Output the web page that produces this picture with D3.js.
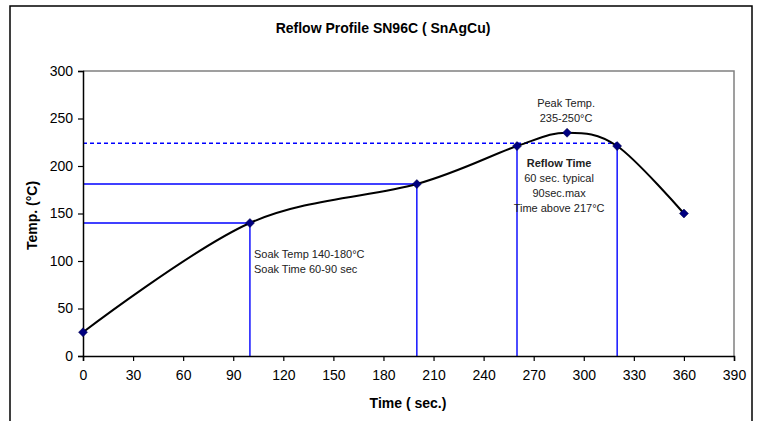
<!DOCTYPE html>
<html>
<head>
<meta charset="utf-8">
<script src="https://cdn.jsdelivr.net/npm/d3@7"></script>
<style>
  body { margin: 0; background: #fff; }
  svg { display: block; font-family: 'Liberation Sans', Arial, sans-serif; }
</style>
</head>
<body>
<div id="chart"><svg width="759" height="421"></svg></div>
<script>
// profile points (sec, °C)
const TIMES = [0, 100, 200, 260, 290, 320, 360];
const TEMPS = [25, 140, 181, 221, 235, 221, 150];

const X_TICKS = [0, 30, 60, 90, 120, 150, 180, 210, 240, 270, 300, 330, 360, 390];
const Y_TICKS = [0, 50, 100, 150, 200, 250, 300];

// guide lines
const H_LEVELS = [140, 181, 224];
const H_ENDS = [100, 200, 320];
const H_DASHED = [false, false, true];
const V_TIMES = [100, 200, 260, 320];
const V_TOPS = [140, 181, 224, 224];

const SOAK_TEXT = ['Soak Temp 140-180°C', 'Soak Time 60-90 sec'];
const PEAK_TEXT = ['Peak Temp.', '235-250°C'];
const REFLOW_TEXT = ['Reflow Time', '60 sec. typical', '90sec.max', 'Time above 217°C'];

const SVG = d3.select('#chart svg');
const LEFT = 83, TOP = 71, RIGHT = 734, BOTTOM = 356;

// chart frame
SVG.append('rect')
  .attr('x', 10).attr('y', 6)
  .attr('width', 742).attr('height', 430)
  .style('fill', 'none')
  .style('stroke', '#000')
  .style('stroke-width', 1.5);

const X_SCALE = d3.scaleLinear().domain([0, 390]).range([LEFT, RIGHT]);
const Y_SCALE = d3.scaleLinear().domain([0, 300]).range([BOTTOM, TOP]);

// plot area border (top/right grey)
SVG.append('path')
  .attr('d', `M${LEFT},${TOP}H${RIGHT}V${BOTTOM}`)
  .style('fill', 'none')
  .style('stroke', '#808080')
  .style('stroke-width', 1.5);

// guides
SVG.append('g').selectAll('line')
  .data(H_LEVELS)
  .join('line')
  .attr('x1', X_SCALE(0))
  .attr('x2', (d, i) => X_SCALE(H_ENDS[i]))
  .attr('y1', d => Y_SCALE(d))
  .attr('y2', d => Y_SCALE(d))
  .style('stroke', '#0000ff')
  .style('stroke-width', 1.4)
  .style('stroke-dasharray', (d, i) => H_DASHED[i] ? '4,3' : null);

SVG.append('g').selectAll('line')
  .data(V_TIMES)
  .join('line')
  .attr('x1', d => X_SCALE(d))
  .attr('x2', d => X_SCALE(d))
  .attr('y1', Y_SCALE(0))
  .attr('y2', (d, i) => Y_SCALE(V_TOPS[i]))
  .style('stroke', '#0000ff')
  .style('stroke-width', 1.4);

// axes
const Y_AXIS_G = SVG.append('g').attr('transform', `translate(${LEFT},0)`);
d3.axisLeft(Y_SCALE).tickValues(Y_TICKS).tickSize(5).tickPadding(5)(Y_AXIS_G);
const X_AXIS_G = SVG.append('g').attr('transform', `translate(0,${BOTTOM})`);
d3.axisBottom(X_SCALE).tickValues(X_TICKS).tickSize(5).tickPadding(9)(X_AXIS_G);

[Y_AXIS_G, X_AXIS_G].forEach(g => {
  g.select('.domain').style('stroke', '#000').style('stroke-width', 1.5);
  g.selectAll('.tick line').style('stroke', '#000').style('stroke-width', 1.2);
  g.selectAll('.tick text')
    .style('font-family', "'Liberation Sans', Arial, sans-serif")
    .style('font-size', '14px')
    .style('fill', '#000');
});

// profile curve
const DATA = TIMES.map((t, i) => ({ t, v: TEMPS[i] }));
SVG.append('path')
  .datum(DATA)
  .attr('d', d3.line()
    .x(d => X_SCALE(d.t))
    .y(d => Y_SCALE(d.v))
    .curve(d3.curveCardinal.tension(0)))
  .style('fill', 'none')
  .style('stroke', '#000')
  .style('stroke-width', 2);

SVG.append('g').selectAll('path')
  .data(DATA)
  .join('path')
  .attr('transform', d => `translate(${X_SCALE(d.t)},${Y_SCALE(d.v)})`)
  .attr('d', 'M0,-4.5L4.5,0L0,4.5L-4.5,0Z')
  .style('fill', '#000080')
  .style('stroke', '#000040')
  .style('stroke-width', 0.5);

// titles
SVG.append('text')
  .text('Reflow Profile SN96C ( SnAgCu)')
  .attr('x', 383).attr('y', 33)
  .style('text-anchor', 'middle')
  .style('font-size', '14px')
  .style('font-weight', 'bold');

SVG.append('text')
  .text('Time ( sec.)')
  .attr('x', 408).attr('y', 408)
  .style('text-anchor', 'middle')
  .style('font-size', '14px')
  .style('font-weight', 'bold');

SVG.append('text')
  .text('Temp. (°C)')
  .attr('transform', `translate(37,${(TOP + BOTTOM) / 2 + 2}) rotate(-90)`)
  .style('text-anchor', 'middle')
  .style('font-size', '14px')
  .style('font-weight', 'bold');

// annotations
SVG.append('g').selectAll('text')
  .data(SOAK_TEXT)
  .join('text')
  .text(d => d)
  .attr('x', X_SCALE(100) + 4)
  .attr('y', (d, i) => 258 + i * 15)
  .style('font-size', '11px')
  .style('fill', '#222');

SVG.append('g').selectAll('text')
  .data(PEAK_TEXT)
  .join('text')
  .text(d => d)
  .attr('x', X_SCALE(290) - 1)
  .attr('y', (d, i) => 107 + i * 15)
  .style('text-anchor', 'middle')
  .style('font-size', '11px')
  .style('fill', '#222');

SVG.append('g').selectAll('text')
  .data(REFLOW_TEXT)
  .join('text')
  .text(d => d)
  .attr('x', X_SCALE(290) - 8)
  .attr('y', (d, i) => 167 + i * 15)
  .style('text-anchor', 'middle')
  .style('font-size', '11px')
  .style('font-weight', (d, i) => i === 0 ? 'bold' : null)
  .style('fill', '#222');
</script>
</body>
</html>
